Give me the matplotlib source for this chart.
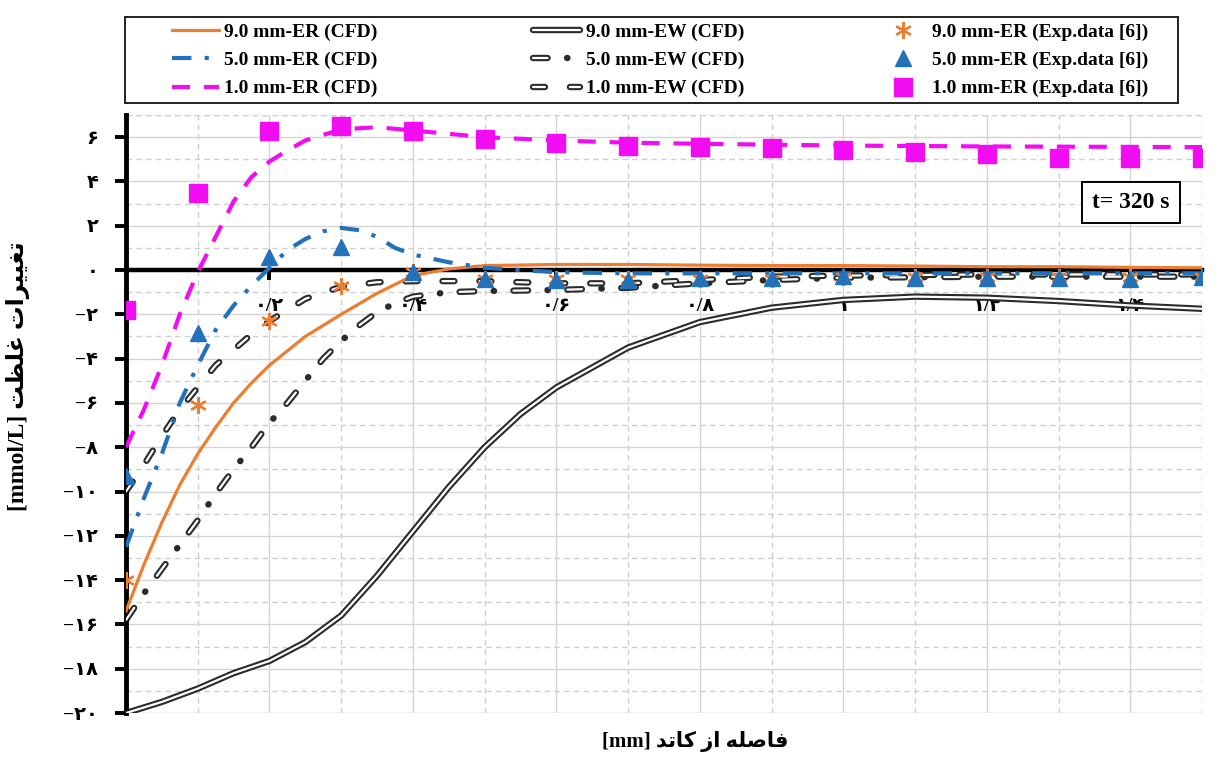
import matplotlib
matplotlib.use("Agg")
import matplotlib.pyplot as plt
from matplotlib import font_manager
from matplotlib.ft2font import FT2Font
from matplotlib.ticker import MultipleLocator
from matplotlib.patches import Rectangle

plt.rcParams["lines.scale_dashes"] = False

# ---------------- data ----------------
# CFD profiles, electrode "ER" cases
x_er9 = [0, 0.025, 0.05, 0.075, 0.1, 0.125, 0.15, 0.175, 0.2, 0.25, 0.3, 0.35, 0.4,
         0.45, 0.5, 0.6, 0.7, 0.8, 0.9, 1.0, 1.1, 1.2, 1.3, 1.4, 1.5]
y_er9 = [-15.4, -13.3, -11.4, -9.7, -8.3, -7.1, -6.0, -5.1, -4.3, -3.0, -2.0, -1.05, -0.25,
         0.05, 0.2, 0.25, 0.25, 0.22, 0.2, 0.2, 0.18, 0.15, 0.15, 0.12, 0.1]

x_er5 = [0, 0.025, 0.05, 0.075, 0.1, 0.125, 0.15, 0.175, 0.2, 0.225, 0.25, 0.275, 0.3,
         0.325, 0.35, 0.375, 0.4, 0.45, 0.5, 0.6, 0.7, 0.8, 0.9, 1.0, 1.2, 1.5]
y_er5 = [-12.5, -10.3, -8.3, -6.0, -4.3, -2.7, -1.6, -0.7, 0.1, 0.9, 1.4, 1.75, 1.9,
         1.8, 1.5, 1.0, 0.7, 0.35, 0.1, -0.1, -0.15, -0.15, -0.15, -0.15, -0.15, -0.15]

x_er1 = [0, 0.025, 0.05, 0.075, 0.1, 0.125, 0.15, 0.175, 0.2, 0.225, 0.25, 0.3, 0.35,
         0.4, 0.5, 0.6, 0.7, 0.8, 1.0, 1.2, 1.5]
y_er1 = [-8.0, -6.3, -4.3, -2.0, -0.1, 1.5, 3.1, 4.2, 4.9, 5.4, 5.85, 6.35, 6.45,
         6.3, 6.0, 5.85, 5.75, 5.7, 5.62, 5.58, 5.55]

# CFD profiles, "EW" cases
x_ew9 = [0, 0.05, 0.1, 0.15, 0.2, 0.25, 0.3, 0.35, 0.4, 0.45, 0.5, 0.55, 0.6, 0.7,
         0.8, 0.9, 1.0, 1.1, 1.2, 1.3, 1.4, 1.5]
y_ew9 = [-20.0, -19.5, -18.9, -18.2, -17.65, -16.8, -15.6, -13.8, -11.8, -9.8, -8.0,
         -6.5, -5.3, -3.5, -2.35, -1.7, -1.35, -1.2, -1.25, -1.4, -1.6, -1.75]

x_ew5 = [0, 0.025, 0.05, 0.075, 0.1, 0.125, 0.15, 0.175, 0.2, 0.225, 0.25, 0.275, 0.3,
         0.325, 0.35, 0.375, 0.4, 0.45, 0.5, 0.6, 0.7, 0.8, 0.9, 1.0, 1.2, 1.5]
y_ew5 = [-15.8, -14.6, -13.5, -12.4, -11.3, -10.1, -9.0, -8.0, -6.9, -6.0, -5.0, -4.0, -3.2,
         -2.5, -1.9, -1.5, -1.2, -1.0, -0.95, -0.9, -0.8, -0.6, -0.45, -0.35, -0.3, -0.3]

x_ew1 = [0, 0.025, 0.05, 0.075, 0.1, 0.125, 0.15, 0.175, 0.2, 0.25, 0.3, 0.35, 0.4,
         0.5, 0.6, 0.7, 0.8, 0.9, 1.0, 1.2, 1.5]
y_ew1 = [-10.0, -8.8, -7.5, -6.3, -5.3, -4.3, -3.6, -2.9, -2.3, -1.3, -0.75, -0.55, -0.5,
         -0.5, -0.6, -0.6, -0.45, -0.3, -0.25, -0.2, -0.2]

# experimental points
x_exp = [0.0, 0.1, 0.2, 0.3, 0.4, 0.5, 0.6, 0.7, 0.8, 0.9, 1.0, 1.1, 1.2, 1.3, 1.4, 1.5]
y_exp9 = [-14.0, -6.1, -2.3, -0.7, -0.1, -0.4, -0.4, -0.4, -0.4, -0.4, -0.3, -0.3,
          -0.3, -0.3, -0.3, -0.3]
y_exp5 = [-9.3, -2.85, 0.6, 1.05, -0.1, -0.4, -0.45, -0.45, -0.35, -0.35, -0.25, -0.35,
          -0.35, -0.35, -0.4, -0.3]
y_exp1 = [-1.8, 3.5, 6.3, 6.5, 6.3, 5.9, 5.75, 5.6, 5.55, 5.5, 5.4, 5.35, 5.25, 5.05,
          5.05, 5.05]

y_ticks = list(range(-20, 7, 2))
x_ticks = [0.2, 0.4, 0.6, 0.8, 1.0, 1.2, 1.4]
x_tick_labels = ["۰/۲", "۰/۴", "۰/۶", "۰/۸", "۱", "۱/۲", "۱/۴"]

labels_er = ["9.0 mm-ER (CFD)", "5.0 mm-ER (CFD)", "1.0 mm-ER (CFD)"]
labels_ew = ["9.0 mm-EW (CFD)", "5.0 mm-EW (CFD)", "1.0 mm-EW (CFD)"]
labels_exp = ["9.0 mm-ER (Exp.data [6])", "5.0 mm-ER (Exp.data [6])",
              "1.0 mm-ER (Exp.data [6])"]


# ---------------- fonts ----------------
def has_glyph(family, ch, weight="normal"):
    try:
        path = font_manager.findfont(
            font_manager.FontProperties(family=family, weight=weight),
            fallback_to_default=False)
        return ord(ch) in FT2Font(path).get_charmap()
    except Exception:
        return False


ar_weight = "bold" if has_glyph("DejaVu Sans", "\u06F4", "bold") and \
    has_glyph("DejaVu Sans", "\uFEC8", "bold") else "normal"
keheh_ini = "\uFB90" if has_glyph("DejaVu Sans", "\uFB90", ar_weight) else "\uFEDB"

FAM = ["Liberation Serif", "DejaVu Sans"]


def persian_digits(s):
    return s.translate(str.maketrans("0123456789", "۰۱۲۳۴۵۶۷۸۹"))


def y_label_text(v):
    if v < 0:
        return "\u2212" + persian_digits(str(-v))
    return persian_digits(str(v))


# shaped (presentation-form) words, written in visual left-to-right order
w_taghyirat = "\uFE95\uFE8D\uFEAE\uFEF4\uFEF4\uFED0\uFE97"      # تغییرات
w_ghelzat = "\uFE96\uFEC8\uFEE0\uFECF"                            # غلظت
w_faseleh = "\uFEEA\uFEE0\uFEBB\uFE8E\uFED3"                      # فاصله
w_az = "\uFEAF\uFE8D"                                             # از
w_katod = "\uFEAA\uFE97\uFE8E" + keheh_ini                        # کاتد

ylabel_text = "[mmol/L] " + w_ghelzat + " " + w_taghyirat
xlabel_text = "[mm] " + w_katod + " " + w_az + " " + w_faseleh

# ---------------- styles ----------------
ORANGE = "#ED7D31"
BLUE = "#2372B9"
MAGENTA = "#F20CF2"
EDGE = "#2b2b2b"
W_OUT, W_IN = 4.6, 1.6

fig = plt.figure(figsize=(12.29, 7.58), dpi=100)
ax = fig.add_axes([126 / 1229, 1 - 713 / 758, (1202 - 126) / 1229, (713 - 115) / 758])

ax.set_xlim(0, 1.5)
ax.set_ylim(-20, 7)

# grid: solid on even / 0.2 steps, dashed on odd / 0.1 steps
ax.yaxis.set_major_locator(MultipleLocator(2))
ax.yaxis.set_minor_locator(MultipleLocator(1))
ax.xaxis.set_major_locator(MultipleLocator(0.2))
ax.xaxis.set_minor_locator(MultipleLocator(0.1))
ax.grid(which="major", color="#d4d4d4", lw=1.0, ls="-")
ax.grid(which="minor", color="#cfcfcf", lw=1.0, ls=(0, (4, 3)))
ax.set_axisbelow(True)
ax.axhline(7, color="#cfcfcf", lw=1.0, ls=(0, (4, 3)), zorder=0.5)
ax.axvline(1.5, color="#cfcfcf", lw=1.0, ls=(0, (4, 3)), zorder=0.5)
ax.axhline(-20, color="#d4d4d4", lw=1.0, zorder=0.5)


def double_line(x, y, dash_out=None, dash_in=None):
    """Outlined ('double') line: dark wide stroke with a white core."""
    kw_out = dict(color=EDGE, lw=W_OUT, zorder=2.5, solid_capstyle="round",
                  dash_capstyle="round")
    kw_in = dict(color="white", lw=W_IN, zorder=2.6, solid_capstyle="round",
                 dash_capstyle="round")
    if dash_out is not None:
        kw_out["dashes"] = dash_out
        kw_in["dashes"] = dash_in
    a, = ax.plot(x, y, **kw_out)
    b, = ax.plot(x, y, **kw_in)
    return (a, b)


# CFD lines
l_er9, = ax.plot(x_er9, y_er9, color=ORANGE, lw=2.3, zorder=3)
l_er5, = ax.plot(x_er5, y_er5, color=BLUE, lw=3.0, zorder=3,
                 dashes=(14.0, 9.5, 3.0, 9.5))
l_er1, = ax.plot(x_er1, y_er1, color=MAGENTA, lw=3.0, zorder=3, dashes=(13.0, 10.0))

h_ew9 = double_line(x_ew9, y_ew9)
h_ew5 = double_line(x_ew5, y_ew5, (10.5, 14.0, 0.3, 14.0), (10.5, 28.3))
h_ew1 = double_line(x_ew1, y_ew1, (8.6, 18.0), (8.6, 18.0))

# experimental points
m9, = ax.plot(x_exp, y_exp9, ls="none", marker=(6, 2, 0), ms=12, mew=1.6,
              color=ORANGE, zorder=4)
m5, = ax.plot(x_exp, y_exp5, ls="none", marker="^", ms=11.5, color=BLUE, mec=BLUE,
              zorder=4.5)
m1, = ax.plot(x_exp, y_exp1, ls="none", marker="s", ms=13, color=MAGENTA, mec=MAGENTA,
              zorder=4)

# axes lines: y axis at x=0 and x axis through y=0
for s in ("top", "right"):
    ax.spines[s].set_visible(False)
ax.spines["bottom"].set_position(("data", 0))
ax.spines["bottom"].set_linewidth(3.2)
ax.spines["left"].set_linewidth(3.5)
ax.spines["bottom"].set_zorder(2)

ax.set_yticks(y_ticks)
ax.set_yticklabels([y_label_text(v) for v in y_ticks])
ax.set_xticks(x_ticks)
ax.set_xticklabels(x_tick_labels)
ax.tick_params(axis="y", which="major", direction="out", length=8, width=2.8, pad=12,
               labelsize=14)
ax.tick_params(axis="x", which="major", direction="out", length=7, width=2.8, pad=13,
               labelsize=14)
ax.tick_params(which="minor", length=0)
for t in ax.get_yticklabels() + ax.get_xticklabels():
    t.set_family(FAM)
    t.set_fontweight(ar_weight)

# annotation box
ax.text(0.934, 0.853, "t= 320 s", transform=ax.transAxes, ha="center", va="center",
        fontsize=17, fontweight="bold", family="Liberation Serif", zorder=6,
        bbox=dict(boxstyle="square,pad=0.42", fc="white", ec="black", lw=1.4))

# axis titles
fig.text(18 / 1229, 1 - 376 / 758, ylabel_text, rotation=90, ha="center", va="center",
         fontsize=17, fontweight=ar_weight, family=FAM)
fig.text(695 / 1229, 1 - 741 / 758, xlabel_text, ha="center", va="center",
         fontsize=15, fontweight=ar_weight, family=FAM)

# legend: outer frame plus three columns of entries
fig.add_artist(Rectangle((125 / 1229, 1 - 103 / 758), (1178 - 125) / 1229, 86 / 758,
                         transform=fig.transFigure, fill=False, ec="#222222", lw=1.4))
leg_prop = dict(family="Liberation Serif", weight="bold", size=14)
leg_kw = dict(loc="upper left", frameon=False, borderaxespad=0, borderpad=0,
              handlelength=2.4, handletextpad=0.3, labelspacing=0.55, prop=leg_prop)
fig.legend([l_er9, l_er5, l_er1], labels_er,
           bbox_to_anchor=(172 / 1229, 1 - 23 / 758), **leg_kw)
fig.legend([h_ew9, h_ew5, h_ew1], labels_ew,
           bbox_to_anchor=(533 / 1229, 1 - 23 / 758), **leg_kw)
fig.legend([m9, m5, m1], labels_exp,
           bbox_to_anchor=(880 / 1229, 1 - 23 / 758), **leg_kw)

fig.savefig("out.png", dpi=100, facecolor="white")
